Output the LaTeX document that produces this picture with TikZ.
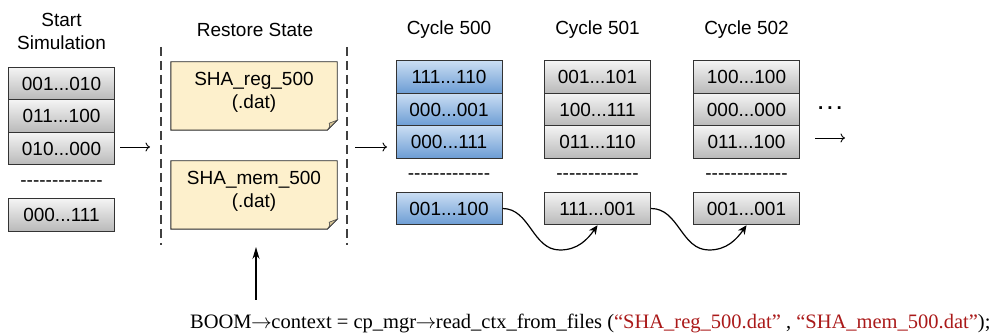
\documentclass[tikz,border=0pt]{standalone}
\usepackage{fontspec}
\setmainfont{Liberation Sans}[Ligatures=TeXOff]
\newfontfamily\codefont{Liberation Serif}
\usetikzlibrary{arrows.meta,backgrounds}
\definecolor{greytop}{HTML}{F4F4F4}
\definecolor{greybot}{HTML}{B9B9B9}
\definecolor{bluetop}{HTML}{CADEF3}
\definecolor{bluebot}{HTML}{6C9DD4}
\definecolor{notefill}{HTML}{FDF0CC}
\definecolor{notefold}{HTML}{D6C394}
\definecolor{edgegrey}{HTML}{333333}
\definecolor{strred}{RGB}{170,25,25}
\newcommand{\ptr}{\kern-0.5pt$\rightarrow$\kern-0.5pt}

\begin{document}
\begin{tikzpicture}[x=1pt,y=1pt,
  every node/.style={font=\fontsize{19}{23}\selectfont},
  reg/.style={draw=edgegrey, line width=1pt, minimum width=106pt,
    minimum height=32.5pt, inner sep=0pt, top color=greytop, bottom color=greybot},
  regblue/.style={reg, top color=bluetop, bottom color=bluebot},
  title/.style={align=center, inner sep=0pt},
  divider/.style={draw=black!75, line width=1.6pt, dash pattern=on 9pt off 5pt},
  flowarrow/.style={-{To[length=4.5pt,width=9pt]}, line width=0.9pt},
  hop/.style={-{Stealth[length=9pt,width=8pt]}, line width=1.2pt},
  uparrow/.style={-{Stealth[length=12pt,width=7pt]}, line width=1.5pt},
  note/.style={minimum width=166pt, minimum height=68pt, inner sep=0pt},
  notetext/.style={align=center, yshift=4pt}
]
\useasboundingbox (0,0) rectangle (998,334);

% ---- start of simulation: register contents
\node[title] (tstart) at (61.5,302.5) {Start\\Simulation};
\node[reg] (s1) at (61.5,250.5) {001...010};
\node[reg] (s2) at (61.5,218) {011...100};
\node[reg] (s3) at (61.5,185.5) {010...000};
\node (sdash) at (61.5,150) {-------------};
\node[reg] (s4) at (61.5,119) {000...111};

% ---- restore phase: checkpoint files
\node[title] (trestore) at (255,304) {Restore State};
\coordinate (d1top) at (161,287);
\coordinate (d1bot) at (161,89);
\coordinate (d2top) at (347,287);
\coordinate (d2bot) at (347,89);
\draw[divider] (d1top) -- (d1bot);
\draw[divider] (d2top) -- (d2bot);

\node[note, label={[notetext]center:SHA\_reg\_500\\(.dat)}] (regfile) at (254,238) {};
\node[note, label={[notetext]center:SHA\_mem\_500\\(.dat)}] (memfile) at (254,139) {};

\begin{pgfonlayer}{background}
\foreach \n in {regfile,memfile}{
  \filldraw[fill=notefill, draw=black!85, line width=0.9pt]
    (\n.north west) -- (\n.north east) -- ([yshift=10pt]\n.south east)
    -- ([xshift=-10pt]\n.south east) -- (\n.south west) -- cycle;
  \filldraw[fill=notefold, draw=black!70, line width=0.6pt]
    ([yshift=10pt]\n.south east) -- ([xshift=-10pt]\n.south east)
    .. controls ([xshift=-7pt,yshift=4pt]\n.south east) .. ([xshift=-8pt,yshift=7pt]\n.south east)
    -- cycle;
}
\end{pgfonlayer}

% ---- cycle 500
\node[title] (t500) at (449,304) {Cycle 500};
\node[regblue] (a1) at (449,257) {111...110};
\node[regblue] (a2) at (449,224.5) {000...001};
\node[regblue] (a3) at (449,192) {000...111};
\node (adash) at (449,157) {-------------};
\node[regblue] (a4) at (449,125.5) {001...100};

% ---- cycle 501
\node[title] (t501) at (597.5,304) {Cycle 501};
\node[reg] (b1) at (597.5,257) {001...101};
\node[reg] (b2) at (597.5,224.5) {100...111};
\node[reg] (b3) at (597.5,192) {011...110};
\node (bdash) at (597.5,157) {-------------};
\node[reg] (b4) at (597.5,125.5) {111...001};

% ---- cycle 502
\node[title] (t502) at (746.5,304) {Cycle 502};
\node[reg] (c1) at (746.5,257) {100...100};
\node[reg] (c2) at (746.5,224.5) {000...000};
\node[reg] (c3) at (746.5,192) {011...100};
\node (cdash) at (746.5,157) {-------------};
\node[reg] (c4) at (746.5,125.5) {001...001};

\node (more) at (830,226) {\textbf{.\hspace{4pt}.\hspace{4pt}.}};

% ---- flow between phases
\coordinate (f1a) at (120,187);
\coordinate (f1b) at (150,187);
\coordinate (f2a) at (355,187);
\coordinate (f2b) at (387,187);
\coordinate (f3a) at (815,196);
\coordinate (f3b) at (845,196);
\draw[flowarrow] (f1a) -- (f1b);
\draw[flowarrow] (f2a) -- (f2b);
\draw[flowarrow] (f3a) -- (f3b);

% ---- value carried from one cycle to the next
\coordinate (dip1) at (560,84);
\coordinate (dip2) at (709,84);
\draw[hop] (a4.east) to[out=0,in=180] (dip1) to[out=0,in=-125] (b4.south);
\draw[hop] (b4.east) to[out=0,in=180] (dip2) to[out=0,in=-125] (c4.south);

% ---- restore call
\node[anchor=base west, inner sep=0pt, font=\codefont\fontsize{20.5}{24}\selectfont] (call) at (190,5)
  {BOOM\ptr context = cp\_mgr\ptr read\_ctx\_from\_files (\textcolor{strred}{“SHA\_reg\_500.dat”} , \textcolor{strred}{“SHA\_mem\_500.dat”});};
\coordinate (upfoot) at (256,34);
\coordinate (uptip) at (256,87);
\draw[uparrow] (upfoot) -- (uptip);
\end{tikzpicture}
\end{document}
